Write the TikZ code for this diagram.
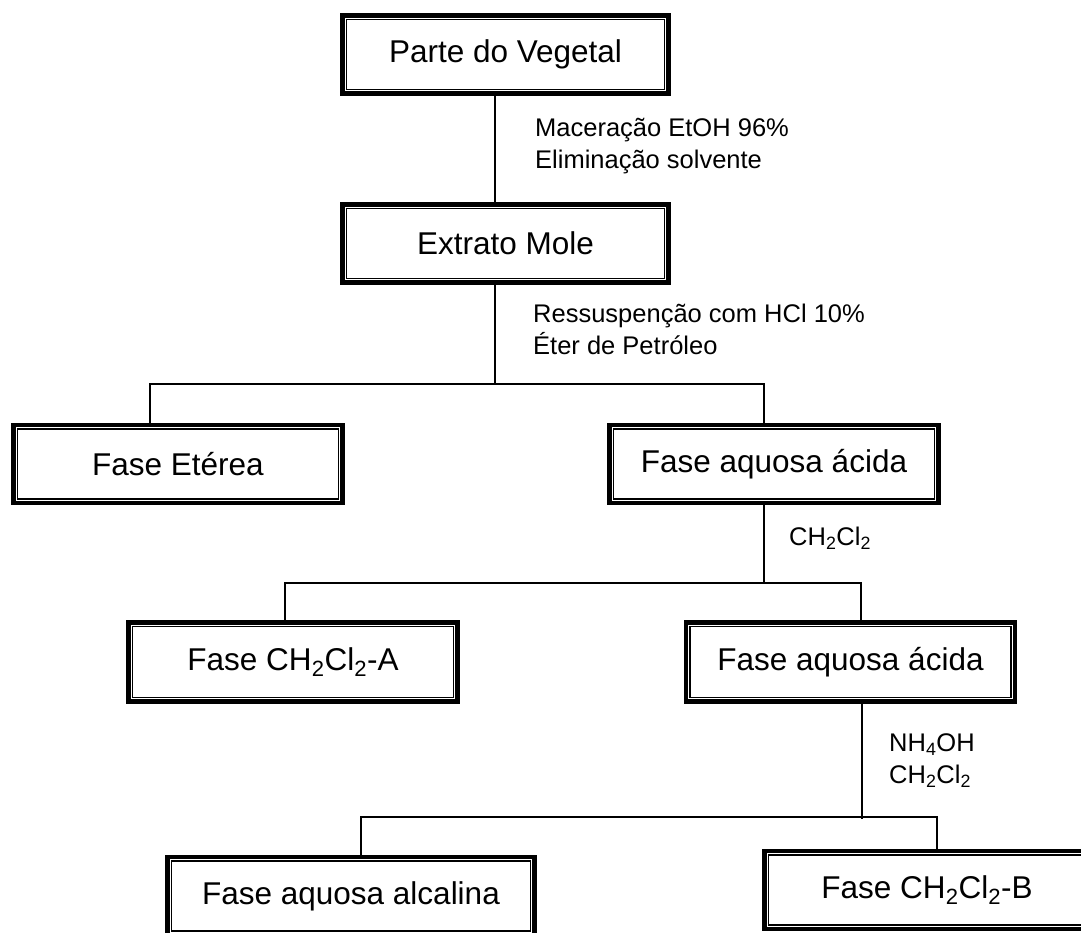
\documentclass[tikz,border=0pt]{standalone}
\usepackage{fontspec}
\setmainfont{Liberation Sans}
\begin{document}
\begin{tikzpicture}[x=1pt,y=-1pt,
        fase/.style={draw,line width=4.7pt,minimum height=78pt,inner sep=0pt,
                     font=\fontsize{31.5}{38}\selectfont,
                     path picture={\draw[line width=1.3pt]
                       ([shift={(4pt,-4pt)}]path picture bounding box.north west) rectangle
                       ([shift={(-4pt,4pt)}]path picture bounding box.south east);}},
        passo/.style={anchor=west,align=left,inner sep=0pt,font=\fontsize{25.5}{32}\selectfont},
        liga/.style={line width=2.5pt}]
        \useasboundingbox (0,0) rectangle (1081,932);

        % caixas
        \node[fase,minimum width=326pt] (vegetal) at (505.5,54.5) {Parte do Vegetal};
        \node[fase,minimum width=326pt] (extrato) at (505.5,243.5) {Extrato Mole};
        \node[fase,minimum width=329pt] (eterea) at (178,464) {Fase Etérea};
        \node[fase,minimum width=329pt] (acida1) at (774,464) {Fase aquosa ácida};
        \node[fase,minimum width=329pt,minimum height=79pt] (diclA) at (293,662) {Fase CH\textsubscript{2}Cl\textsubscript{2}-A};
        \node[fase,minimum width=329pt,minimum height=79pt] (acida2) at (850.5,662) {Fase aquosa ácida};
        \node[fase,minimum width=367pt] (alcalina) at (351,896) {Fase aquosa alcalina};
        \node[fase,minimum width=325pt] (diclB) at (927,890) {Fase CH\textsubscript{2}Cl\textsubscript{2}-B};

        % pontos de divisao
        \coordinate (s1) at (495,384);
        \coordinate (s1l) at (150,384);
        \coordinate (s1r) at (764,384);
        \coordinate (s2) at (764,583);
        \coordinate (s2l) at (285,583);
        \coordinate (s2r) at (861,583);
        \coordinate (s3) at (862,819);
        \coordinate (s3l) at (361,817);
        \coordinate (s3r) at (937,817);

        \draw[liga] (vegetal.south -| s1) -- (extrato.north -| s1);
        \draw[liga] (extrato.south -| s1) -- (s1);
        \draw[liga] (eterea.north -| s1l) |- (s1r) -- (acida1.north -| s1r);
        \draw[liga] (acida1.south -| s2) -- (s2);
        \draw[liga] (diclA.north -| s2l) |- (s2r) -- (acida2.north -| s2r);
        \draw[liga,line width=1.5pt] (acida2.south -| s3) -- (s3);
        \draw[liga] (alcalina.north -| s3l) |- (s3r) -- (diclB.north -| s3r);

        % etapas
        \node[passo] (etapa1) at (535,146) {Maceração EtOH 96\%\\Eliminação solvente};
        \node[passo] (etapa2) at (533,329) {Ressuspenção com HCl 10\%\\Éter de Petróleo};
        \node[passo] (etapa3) at (789,538) {CH\textsubscript{2}Cl\textsubscript{2}};
        \node[passo] (etapa4) at (889,761) {NH\textsubscript{4}OH\\CH\textsubscript{2}Cl\textsubscript{2}};
\end{tikzpicture}
\end{document}
